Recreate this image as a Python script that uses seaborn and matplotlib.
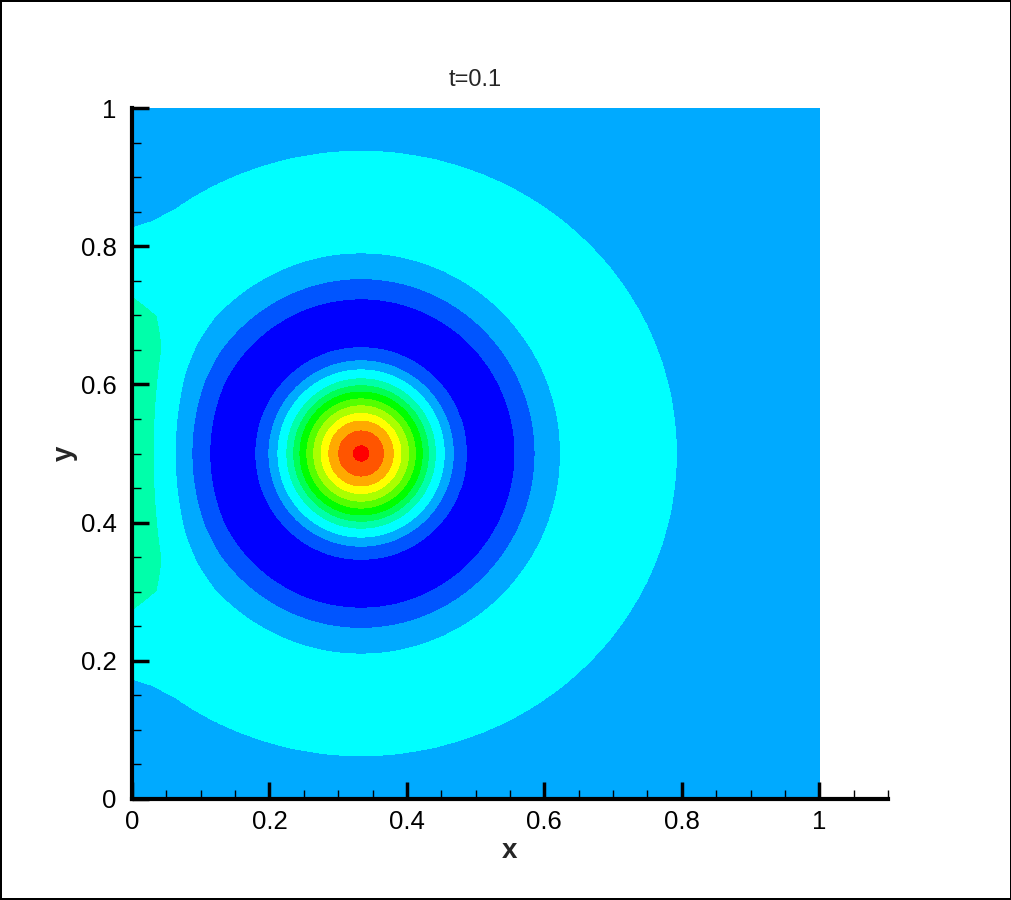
import numpy as np
import matplotlib
matplotlib.use("Agg")
import matplotlib.pyplot as plt
from matplotlib.ticker import MultipleLocator, FixedLocator
import seaborn as sns

# ---- data ----
title = "t=0.1"
center_x, center_y = 1 / 3, 0.5           # pulse centre
wall_image_x = -1 / 3                      # mirror source for the x=0 wall
# direct radial profile knots (radius, value in band units)
profile_r = [0.0, 0.011, 0.0326, 0.047, 0.058, 0.069, 0.079, 0.089, 0.098, 0.108,
             0.121, 0.134, 0.153, 0.19, 0.224, 0.253, 0.29, 0.33, 0.36, 0.40,
             0.43, 0.459, 0.477, 0.50, 2.0]
profile_h = [10.2, 9.5, 8.5, 7.5, 6.5, 5.5, 4.5, 3.5, 2.5, 1.5,
             0.5, -0.5, -1.5, -2.2, -1.5, -0.5, 0.5, 0.95, 1.0, 0.8,
             0.65, 0.5, 0.25, 0.0, 0.0]
# reflected (wall) wave profile knots
wall_r = [0.0, 0.433, 0.472, 0.516, 0.546, 0.58, 0.62, 2.0]
wall_h = [1.0, 1.0, 0.87, 0.52, 0.24, 0.08, 0.0, 0.0]
background = 2.5
levels = [-10, 1, 2, 3, 4, 5, 6, 7, 8, 9, 10, 11, 12, 30]
colors = ["#0000ff", "#0055ff", "#00aaff", "#00ffff", "#00ffaa", "#00ff55", "#00ff00",
          "#55ff00", "#aaff00", "#ffff00", "#ffaa00", "#ff5500", "#ff0000"]
x_ticks = [0, 0.2, 0.4, 0.6, 0.8, 1]
x_tick_labels = ["0", "0.2", "0.4", "0.6", "0.8", "1"]
y_ticks = [0, 0.2, 0.4, 0.6, 0.8, 1]
y_tick_labels = ["0", "0.2", "0.4", "0.6", "0.8", "1"]

# ---- build the field ----
n = 600
gx = np.linspace(0, 1, n)
gy = np.linspace(0, 1, n)
X, Y = np.meshgrid(gx, gy)

dx1, dy1 = X - center_x, Y - center_y
r1 = np.hypot(dx1, dy1)
s2 = (dy1 / np.maximum(r1, 1e-9)) ** 2
r1 = r1 * (1 + 0.05 * s2 * np.clip((r1 - 0.3) / 0.14, 0, 1))
r2 = np.hypot(1.3 * (X - wall_image_x), Y - center_y)
U = background + np.interp(r1, profile_r, profile_h) + np.interp(r2, wall_r, wall_h)

# ---- plot ----
sns.set_style("white")
plt.rcParams["font.family"] = ["Liberation Sans", "DejaVu Sans"]

fig = plt.figure(figsize=(10.12, 9.0), dpi=100)
fig.patch.set_edgecolor("black")
fig.patch.set_linewidth(1.5)
ax = fig.add_axes([132 / 1012, 101 / 900, 756 / 1012, 691 / 900])
ax.contourf(X, Y, U, levels=levels, colors=colors, antialiased=False, zorder=1)
ax.set_axisbelow(False)

ax.set_xlim(0, 1.1)
ax.set_ylim(0, 1)
for side in ["top", "right"]:
    ax.spines[side].set_visible(False)
for side in ["left", "bottom"]:
    ax.spines[side].set_linewidth(3.0)
    ax.spines[side].set_color("black")
    ax.spines[side].set_zorder(5)

ax.xaxis.set_major_locator(FixedLocator(x_ticks))
ax.set_xticklabels(x_tick_labels)
ax.yaxis.set_major_locator(FixedLocator(y_ticks))
ax.set_yticklabels(y_tick_labels)
ax.xaxis.set_minor_locator(MultipleLocator(0.05))
ax.yaxis.set_minor_locator(MultipleLocator(0.05))
ax.tick_params(which="major", direction="in", length=12, width=2.5, labelsize=18.5,
               pad=8, colors="black")
ax.tick_params(which="minor", direction="in", length=6.7, width=1, colors="black")
ax.tick_params(axis="both", which="both", bottom=True, left=True, top=False, right=False)
ax.tick_params(axis="y", which="major", pad=11)

ax.set_xlabel("x", fontsize=20, fontweight="bold", labelpad=3)
ax.set_ylabel("y", fontsize=20, fontweight="bold", labelpad=2)
ax.text(0.5, 1.04, title, fontsize=17, ha="center", va="center",
        transform=ax.get_xaxis_transform())

fig.savefig("out.png", dpi=100, edgecolor=fig.get_edgecolor())
